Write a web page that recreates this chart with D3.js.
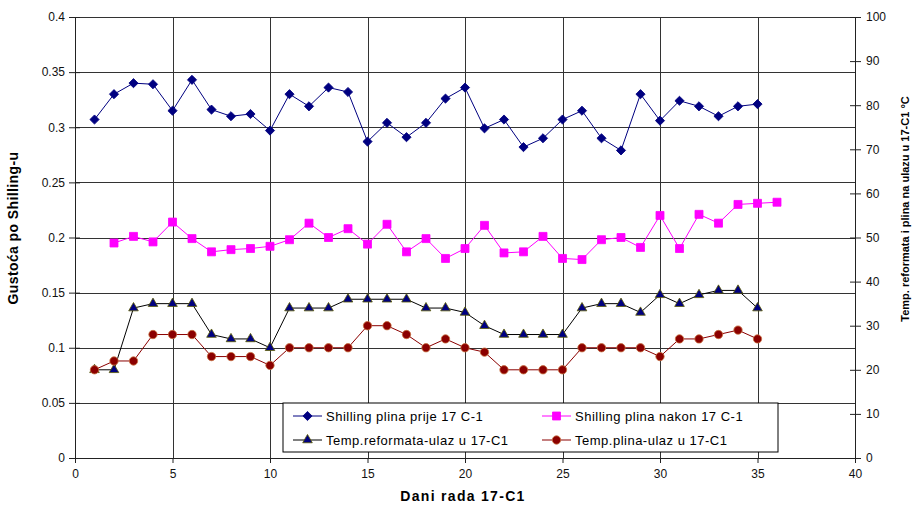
<!DOCTYPE html>
<html>
<head>
<meta charset="utf-8">
<script src="https://cdn.jsdelivr.net/npm/d3@7"></script>
<style>
  body { margin: 0; background: #fff; }
  text { font-family: "Liberation Sans", Arial, sans-serif; }
</style>
</head>
<body>
<div id="chart"></div>
<script>
// x values (days)
let days = [1,2,3,4,5,6,7,8,9,10,11,12,13,14,15,16,17,18,19,20,21,22,23,24,25,26,27,28,29,30,31,32,33,34,35];
let daysAfter = [2,3,4,5,6,7,8,9,10,11,12,13,14,15,16,17,18,19,20,21,22,23,24,25,26,27,28,29,30,31,32,33,34,35,36];

// left axis (Shilling density)
let shillingBefore = [0.307,0.330,0.340,0.339,0.315,0.343,0.316,0.310,0.312,0.297,0.330,0.319,0.336,0.332,0.287,0.304,0.291,0.304,0.326,0.336,0.299,0.307,0.282,0.290,0.307,0.315,0.290,0.279,0.330,0.306,0.324,0.319,0.310,0.319,0.321];
let shillingAfter = [0.195,0.201,0.196,0.214,0.199,0.187,0.189,0.190,0.192,0.198,0.213,0.200,0.208,0.194,0.212,0.187,0.199,0.181,0.190,0.211,0.186,0.187,0.201,0.181,0.180,0.198,0.200,0.191,0.220,0.190,0.221,0.213,0.230,0.231,0.232];

// right axis (temperature, °C)
let tempReformat = [20,20,34,35,35,35,28,27,27,25,34,34,34,36,36,36,36,34,34,33,30,28,28,28,28,34,35,35,33,37,35,37,38,38,34];
let tempGas = [20,22,22,28,28,28,23,23,23,21,25,25,25,25,30,30,28,25,27,25,24,20,20,20,20,25,25,25,25,23,27,27,28,29,27];

let xTicks = [0,5,10,15,20,25,30,35,40];
let yLeftTicks = [0,0.05,0.1,0.15,0.2,0.25,0.3,0.35,0.4];
let yRightTicks = [0,10,20,30,40,50,60,70,80,90,100];

let seriesNames = ["Shilling plina prije 17 C-1","Shilling plina nakon 17 C-1","Temp.reformata-ulaz u 17-C1","Temp.plina-ulaz u 17-C1"];

let width = 915, height = 507;
let margin = {top: 17, right: 60, bottom: 49, left: 75};
let w = width - margin.left - margin.right;
let h = height - margin.top - margin.bottom;

let svg = d3.select("#chart").append("svg")
    .attr("width", width)
    .attr("height", height)
    .append("g")
    .attr("transform", `translate(${margin.left}, ${margin.top})`);

let x = d3.scaleLinear().domain([0, 40]).range([0, w]);
let yL = d3.scaleLinear().domain([0, 0.4]).range([h, 0]);
let yR = d3.scaleLinear().domain([0, 100]).range([h, 0]);

// gridlines
svg.append("g").selectAll("line").data(yLeftTicks).enter().append("line")
    .attr("x1", 0).attr("x2", w)
    .attr("y1", d => Math.round(yL(d)) + 0.5).attr("y2", d => Math.round(yL(d)) + 0.5)
    .attr("stroke", "#333").attr("stroke-width", 1);
svg.append("g").selectAll("line").data(xTicks.slice(1, -1)).enter().append("line")
    .attr("x1", d => Math.round(x(d)) + 0.5).attr("x2", d => Math.round(x(d)) + 0.5)
    .attr("y1", 0).attr("y2", h)
    .attr("stroke", "#333").attr("stroke-width", 1);

// axes
let leftAxis = svg.append("g")
    .call(d3.axisLeft(yL).tickValues(yLeftTicks).tickFormat(d => d).tickSizeInner(6).tickSizeOuter(0).tickPadding(4));
let rightAxis = svg.append("g")
    .attr("transform", `translate(${w}, 0)`)
    .call(d3.axisRight(yR).tickValues(yRightTicks).tickSizeInner(6).tickSizeOuter(0).tickPadding(5));
let bottomAxis = svg.append("g")
    .attr("transform", `translate(0, ${h})`)
    .call(d3.axisBottom(x).tickValues(xTicks).tickSizeInner(5).tickSizeOuter(0).tickPadding(6));

[leftAxis, rightAxis, bottomAxis].forEach(a => {
    a.selectAll("text").style("font-size", "12px").attr("fill", "#111")
        .style("font-family", "'Liberation Sans', Arial, sans-serif");
    a.select(".domain").attr("stroke", "#222");
    a.selectAll(".tick line").attr("stroke", "#222");
});
// crossing ticks
leftAxis.selectAll(".tick line").attr("x1", 5);
rightAxis.selectAll(".tick line").attr("x1", -5);

// axis titles
svg.append("text")
    .attr("transform", `translate(${-57}, ${211}) rotate(-90)`)
    .style("text-anchor", "middle")
    .style("font-size", "14px")
    .style("font-weight", "bold")
    .style("letter-spacing", "0.4px")
    .text("Gustoća po Shilling-u");

svg.append("text")
    .attr("transform", `translate(${w + 54}, ${192}) rotate(-90)`)
    .style("text-anchor", "middle")
    .style("font-size", "11px")
    .style("font-weight", "bold")
    .text("Temp. reformata i plina na ulazu u 17-C1 °C");

svg.append("text")
    .attr("x", 388)
    .attr("y", h + 43)
    .style("text-anchor", "middle")
    .style("font-size", "14px")
    .style("font-weight", "bold")
    .style("letter-spacing", "1.3px")
    .text("Dani rada 17-C1");

// series
let diamond = d3.symbol().type(d3.symbolSquare).size(42);
let square = d3.symbol().type(d3.symbolSquare).size(64);
let triangle = d3.symbol().type(d3.symbolTriangle).size(40);
let circle = d3.symbol().type(d3.symbolCircle).size(55);

let series = [
    {name: seriesNames[0], xs: days, ys: shillingBefore, scale: yL, line: "#000080", fill: "#000080", stroke: "#000080", sym: diamond, rot: 45},
    {name: seriesNames[1], xs: daysAfter, ys: shillingAfter, scale: yL, line: "#ff00ff", fill: "#ff00ff", stroke: "#ff00ff", sym: square, rot: 0},
    {name: seriesNames[2], xs: days, ys: tempReformat, scale: yR, line: "#000000", fill: "#000080", stroke: "#5a5a00", sym: triangle, rot: 0},
    {name: seriesNames[3], xs: days, ys: tempGas, scale: yR, line: "#8b0000", fill: "#8b0000", stroke: "#c87040", sym: circle, rot: 0}
];

series.forEach(s => {
    let pts = s.xs.map((d, i) => [d, s.ys[i]]);
    let line = d3.line().x(d => x(d[0])).y(d => s.scale(d[1]));
    svg.append("path")
        .datum(pts)
        .attr("fill", "none")
        .attr("stroke", s.line)
        .attr("stroke-width", 1)
        .attr("d", line);
    svg.append("g").selectAll("path").data(pts).enter().append("path")
        .attr("d", s.sym)
        .attr("transform", d => `translate(${x(d[0])}, ${s.scale(d[1])}) rotate(${s.rot})`)
        .attr("fill", s.fill)
        .attr("stroke", s.stroke)
        .attr("stroke-width", 0.8);
});

// legend
let legend = svg.append("g").attr("transform", `translate(${208}, ${386})`);
legend.append("rect")
    .attr("width", 495).attr("height", 49)
    .attr("fill", "#fff").attr("stroke", "#000").attr("stroke-width", 1);

let legendPos = [[10, 13], [259, 13], [10, 37], [259, 37]];
series.forEach((s, i) => {
    let g = legend.append("g").attr("transform", `translate(${legendPos[i][0]}, ${legendPos[i][1]})`);
    g.append("line").attr("x1", 0).attr("x2", 29).attr("y1", 0).attr("y2", 0)
        .attr("stroke", s.line).attr("stroke-width", 1);
    g.append("path").attr("d", s.sym)
        .attr("transform", `translate(14.5, 0) rotate(${s.rot})`)
        .attr("fill", s.fill).attr("stroke", s.stroke).attr("stroke-width", 0.8);
    g.append("text").attr("x", 33).attr("y", 5)
        .style("font-size", "13px")
        .style("letter-spacing", "0.5px")
        .text(s.name);
});
</script>
</body>
</html>
